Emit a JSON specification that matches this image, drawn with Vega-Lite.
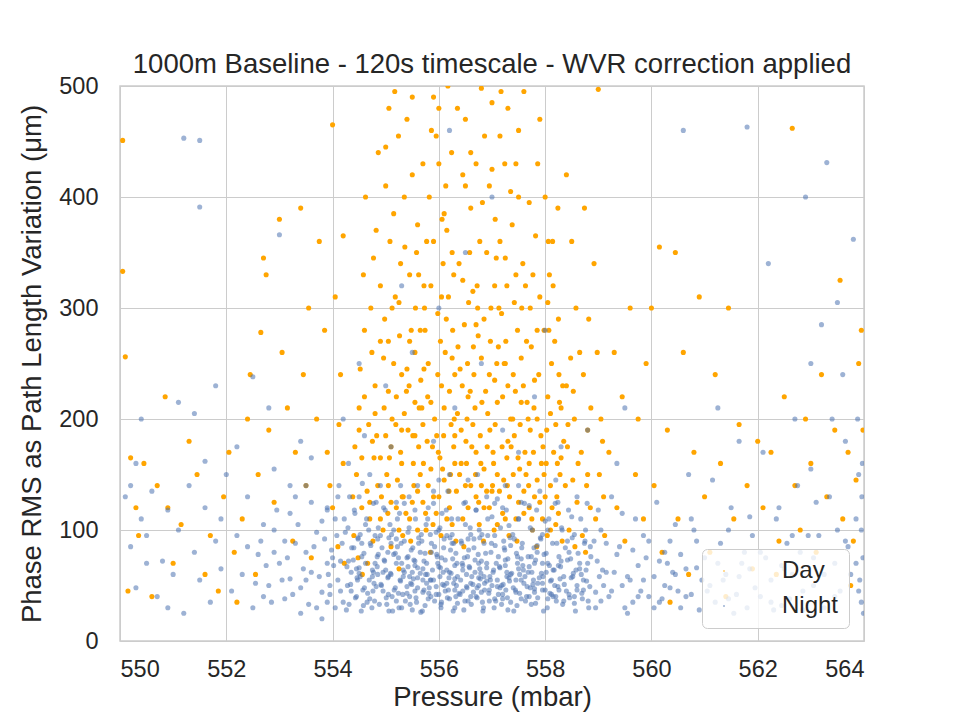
{
  "$schema": "https://vega.github.io/schema/vega-lite/v6.json",
  "width": 744,
  "height": 555,
  "autosize": {"type": "none"},
  "padding": {"left": 120, "top": 86, "right": 96, "bottom": 79},
  "background": "white",
  "title": {
    "text": "1000m Baseline - 120s timescale - WVR correction applied",
    "fontSize": 27.5,
    "fontWeight": "normal",
    "font": "Liberation Sans",
    "color": "#262626",
    "offset": -4,
    "anchor": "middle"
  },
  "datasets": {
    "day": [
      {"x":554.0,"y":120},{"x":554.1,"y":85},{"x":554.2,"y":160},{"x":554.15,"y":240},{"x":554.05,"y":310},{"x":554.22,"y":70},{"x":554.12,"y":195},{"x":553.95,"y":140},{"x":554.2,"y":365},{"x":554.0,"y":465},
      {"x":554.4,"y":95},{"x":554.45,"y":150},{"x":554.5,"y":210},{"x":554.55,"y":120},{"x":554.6,"y":280},{"x":554.42,"y":175},{"x":554.58,"y":330},{"x":554.48,"y":75},{"x":554.52,"y":245},{"x":554.62,"y":400},{"x":554.38,"y":130},{"x":554.5,"y":190},{"x":554.56,"y":60},
      {"x":554.7,"y":110},{"x":554.78,"y":165},{"x":554.8,"y":230},{"x":554.72,"y":300},{"x":554.85,"y":140},{"x":554.68,"y":195},{"x":554.82,"y":370},{"x":554.76,"y":90},{"x":554.74,"y":260},{"x":554.86,"y":440},{"x":554.7,"y":125},{"x":554.8,"y":205},{"x":554.77,"y":345},{"x":554.66,"y":70},
      {"x":554.95,"y":100},{"x":555.02,"y":150},{"x":555.05,"y":225},{"x":554.98,"y":290},{"x":555.1,"y":175},{"x":554.92,"y":130},{"x":555.08,"y":360},{"x":555.0,"y":410},{"x":555.12,"y":200},{"x":554.96,"y":255},{"x":555.04,"y":115},{"x":555.06,"y":480},{"x":554.9,"y":320},{"x":555.1,"y":85},{"x":555.0,"y":185},
      {"x":555.2,"y":120},{"x":555.28,"y":170},{"x":555.3,"y":240},{"x":555.18,"y":310},{"x":555.22,"y":145},{"x":555.35,"y":205},{"x":555.15,"y":385},{"x":555.32,"y":95},{"x":555.26,"y":275},{"x":555.24,"y":455},{"x":555.3,"y":160},{"x":555.2,"y":220},{"x":555.28,"y":340},{"x":555.33,"y":130},{"x":555.17,"y":495},{"x":555.25,"y":65},
      {"x":555.45,"y":110},{"x":555.52,"y":160},{"x":555.55,"y":215},{"x":555.48,"y":280},{"x":555.6,"y":135},{"x":555.42,"y":190},{"x":555.58,"y":350},{"x":555.5,"y":420},{"x":555.4,"y":245},{"x":555.56,"y":300},{"x":555.47,"y":90},{"x":555.62,"y":175},{"x":555.5,"y":490},{"x":555.44,"y":230},{"x":555.6,"y":375},{"x":555.53,"y":140},
      {"x":555.7,"y":125},{"x":555.78,"y":180},{"x":555.8,"y":250},{"x":555.72,"y":320},{"x":555.85,"y":155},{"x":555.68,"y":210},{"x":555.82,"y":400},{"x":555.76,"y":100},{"x":555.74,"y":280},{"x":555.86,"y":460},{"x":555.7,"y":195},{"x":555.8,"y":140},{"x":555.77,"y":360},{"x":555.66,"y":235},{"x":555.84,"y":80},{"x":555.73,"y":300},
      {"x":555.95,"y":115},{"x":556.02,"y":165},{"x":556.05,"y":230},{"x":555.98,"y":295},{"x":556.1,"y":145},{"x":555.92,"y":200},{"x":556.08,"y":340},{"x":556.0,"y":430},{"x":556.12,"y":260},{"x":555.96,"y":185},{"x":556.04,"y":95},{"x":556.06,"y":380},{"x":555.9,"y":130},{"x":556.1,"y":210},{"x":556.0,"y":480},{"x":556.03,"y":270},
      {"x":556.2,"y":120},{"x":556.28,"y":175},{"x":556.3,"y":240},{"x":556.18,"y":310},{"x":556.22,"y":150},{"x":556.35,"y":205},{"x":556.15,"y":370},{"x":556.32,"y":90},{"x":556.26,"y":280},{"x":556.24,"y":440},{"x":556.3,"y":160},{"x":556.2,"y":225},{"x":556.28,"y":330},{"x":556.33,"y":135},{"x":556.17,"y":500},{"x":556.25,"y":255},
      {"x":556.45,"y":110},{"x":556.52,"y":160},{"x":556.55,"y":220},{"x":556.48,"y":285},{"x":556.6,"y":140},{"x":556.42,"y":190},{"x":556.58,"y":350},{"x":556.5,"y":410},{"x":556.4,"y":245},{"x":556.56,"y":305},{"x":556.47,"y":85},{"x":556.62,"y":175},{"x":556.5,"y":470},{"x":556.44,"y":230},{"x":556.6,"y":390},{"x":556.53,"y":200},
      {"x":556.7,"y":130},{"x":556.78,"y":185},{"x":556.8,"y":255},{"x":556.72,"y":320},{"x":556.85,"y":155},{"x":556.68,"y":210},{"x":556.82,"y":395},{"x":556.76,"y":105},{"x":556.74,"y":275},{"x":556.86,"y":455},{"x":556.7,"y":170},{"x":556.8,"y":140},{"x":556.77,"y":360},{"x":556.66,"y":240},{"x":556.84,"y":90},{"x":556.73,"y":300},{"x":556.8,"y":498},
      {"x":556.95,"y":120},{"x":557.02,"y":170},{"x":557.05,"y":235},{"x":556.98,"y":300},{"x":557.1,"y":150},{"x":556.92,"y":205},{"x":557.08,"y":345},{"x":557.0,"y":425},{"x":557.12,"y":265},{"x":556.96,"y":190},{"x":557.04,"y":100},{"x":557.06,"y":380},{"x":556.9,"y":135},{"x":557.1,"y":215},{"x":557.0,"y":485},{"x":557.03,"y":160},
      {"x":557.2,"y":115},{"x":557.28,"y":165},{"x":557.3,"y":230},{"x":557.18,"y":295},{"x":557.22,"y":145},{"x":557.35,"y":200},{"x":557.15,"y":360},{"x":557.32,"y":95},{"x":557.26,"y":270},{"x":557.24,"y":430},{"x":557.3,"y":180},{"x":557.2,"y":220},{"x":557.28,"y":320},{"x":557.33,"y":130},{"x":557.17,"y":495},{"x":557.25,"y":250},
      {"x":557.45,"y":110},{"x":557.52,"y":155},{"x":557.55,"y":215},{"x":557.48,"y":280},{"x":557.6,"y":135},{"x":557.42,"y":185},{"x":557.58,"y":340},{"x":557.5,"y":400},{"x":557.4,"y":240},{"x":557.56,"y":300},{"x":557.47,"y":90},{"x":557.62,"y":170},{"x":557.5,"y":460},{"x":557.44,"y":225},{"x":557.6,"y":495},{"x":557.53,"y":195},
      {"x":557.7,"y":120},{"x":557.78,"y":170},{"x":557.8,"y":235},{"x":557.72,"y":300},{"x":557.85,"y":145},{"x":557.68,"y":200},{"x":557.82,"y":365},{"x":557.76,"y":100},{"x":557.74,"y":265},{"x":557.86,"y":430},{"x":557.7,"y":160},{"x":557.8,"y":130},{"x":557.77,"y":330},{"x":557.66,"y":215},{"x":557.84,"y":85},
      {"x":557.95,"y":110},{"x":558.02,"y":160},{"x":558.05,"y":220},{"x":557.98,"y":280},{"x":558.1,"y":140},{"x":557.92,"y":185},{"x":558.08,"y":330},{"x":558.0,"y":400},{"x":558.12,"y":250},{"x":557.96,"y":175},{"x":558.04,"y":95},{"x":558.06,"y":360},{"x":557.9,"y":125},{"x":558.1,"y":205},
      {"x":558.2,"y":105},{"x":558.28,"y":150},{"x":558.3,"y":210},{"x":558.18,"y":270},{"x":558.22,"y":130},{"x":558.35,"y":180},{"x":558.15,"y":320},{"x":558.32,"y":90},{"x":558.26,"y":240},{"x":558.24,"y":390},{"x":558.3,"y":165},{"x":558.2,"y":195},
      {"x":558.45,"y":100},{"x":558.52,"y":145},{"x":558.55,"y":200},{"x":558.48,"y":255},{"x":558.6,"y":125},{"x":558.42,"y":175},{"x":558.58,"y":300},{"x":558.5,"y":360},{"x":558.4,"y":230},{"x":558.56,"y":85},{"x":558.62,"y":160},
      {"x":558.7,"y":95},{"x":558.78,"y":140},{"x":558.8,"y":190},{"x":558.72,"y":240},{"x":558.85,"y":120},{"x":558.68,"y":170},{"x":558.82,"y":290},{"x":558.76,"y":80},{"x":558.74,"y":390},{"x":558.86,"y":210},
      {"x":558.95,"y":110},{"x":559.02,"y":150},{"x":559.05,"y":200},{"x":558.98,"y":260},{"x":559.1,"y":130},{"x":558.92,"y":340},{"x":559.08,"y":180},{"x":559.0,"y":497},{"x":559.12,"y":95},
      {"x":554.9,"y":165},{"x":555.05,"y":140},{"x":555.15,"y":250},{"x":555.3,"y":190},{"x":555.38,"y":115},{"x":555.45,"y":270},{"x":555.55,"y":185},{"x":555.65,"y":150},{"x":555.72,"y":245},{"x":555.88,"y":175},{"x":555.98,"y":240},{"x":556.07,"y":155},{"x":556.14,"y":290},{"x":556.23,"y":195},{"x":556.36,"y":265},{"x":556.42,"y":160},{"x":556.54,"y":250},{"x":556.64,"y":195},{"x":556.7,"y":285},{"x":556.79,"y":160},{"x":556.88,"y":225},{"x":556.97,"y":270},{"x":557.06,"y":195},{"x":557.14,"y":135},{"x":557.23,"y":250},{"x":557.36,"y":175},{"x":557.42,"y":305},{"x":557.55,"y":255},{"x":557.64,"y":150},{"x":557.72,"y":190},{"x":557.88,"y":240},{"x":557.98,"y":150},{"x":558.07,"y":280},{"x":558.16,"y":170},{"x":558.27,"y":215},{"x":558.38,"y":140},{"x":558.53,"y":225},
      {"x":555.12,"y":300},{"x":555.36,"y":355},{"x":555.62,"y":330},{"x":555.9,"y":360},{"x":556.13,"y":410},{"x":556.38,"y":340},{"x":556.64,"y":315},{"x":556.9,"y":350},{"x":557.13,"y":300},{"x":557.38,"y":375},{"x":557.63,"y":320},{"x":557.9,"y":310},{"x":558.14,"y":360},{"x":555.0,"y":445},{"x":555.4,"y":470},{"x":555.95,"y":455},{"x":556.35,"y":480},{"x":556.6,"y":440},{"x":557.15,"y":455},{"x":557.45,"y":430},{"x":557.9,"y":470},{"x":558.4,"y":420},
      {"x":554.6,"y":220},{"x":554.75,"y":180},{"x":554.9,"y":270},{"x":554.55,"y":165},{"x":558.65,"y":260},{"x":558.8,"y":150},{"x":555.1,"y":125},{"x":555.6,"y":100},{"x":556.15,"y":110},{"x":556.55,"y":120},{"x":557.1,"y":105},{"x":557.6,"y":115},{"x":558.1,"y":100},{"x":556.85,"y":120},{"x":556.3,"y":185},{"x":557.4,"y":150},{"x":555.85,"y":215},{"x":556.95,"y":240},{"x":557.85,"y":200},{"x":555.55,"y":260},
      {"x":554.65,"y":135},{"x":554.83,"y":185},{"x":554.97,"y":210},{"x":555.07,"y":165},{"x":555.19,"y":195},{"x":555.31,"y":130},{"x":555.39,"y":225},{"x":555.51,"y":185},{"x":555.63,"y":210},{"x":555.71,"y":160},{"x":555.79,"y":220},{"x":555.89,"y":105},{"x":555.99,"y":170},{"x":556.09,"y":185},{"x":556.19,"y":135},{"x":556.29,"y":200},{"x":556.39,"y":150},{"x":556.51,"y":180},{"x":556.59,"y":225},{"x":556.69,"y":150},{"x":556.81,"y":215},{"x":556.91,"y":175},{"x":557.01,"y":140},{"x":557.09,"y":250},{"x":557.19,"y":175},{"x":557.29,"y":140},{"x":557.39,"y":200},{"x":557.49,"y":165},{"x":557.59,"y":230},{"x":557.69,"y":140},{"x":557.79,"y":210},{"x":557.93,"y":160},{"x":558.03,"y":190},{"x":558.13,"y":120},{"x":558.23,"y":160},{"x":558.33,"y":230},{"x":558.43,"y":195},
      {"x":555.05,"y":270},{"x":555.25,"y":305},{"x":555.45,"y":330},{"x":555.65,"y":280},{"x":555.85,"y":320},{"x":556.05,"y":310},{"x":556.25,"y":350},{"x":556.45,"y":325},{"x":556.65,"y":265},{"x":556.85,"y":290},{"x":557.05,"y":320},{"x":557.25,"y":345},{"x":557.45,"y":330},{"x":557.65,"y":270},{"x":557.85,"y":280},{"x":558.05,"y":305},{"x":558.25,"y":290},
      {"x":554.9,"y":110},{"x":555.25,"y":100},{"x":555.5,"y":125},{"x":555.75,"y":115},{"x":556.0,"y":130},{"x":556.25,"y":105},{"x":556.5,"y":140},{"x":556.75,"y":125},{"x":557.0,"y":135},{"x":557.25,"y":110},{"x":557.5,"y":125},{"x":557.75,"y":110},{"x":558.0,"y":130},{"x":558.25,"y":115},
      {"x":555.35,"y":400},{"x":555.7,"y":430},{"x":556.1,"y":385},{"x":556.45,"y":420},{"x":556.95,"y":410},{"x":557.35,"y":405},{"x":557.7,"y":395},{"x":556.7,"y":430},{"x":555.9,"y":490},{"x":557.3,"y":480},
      {"x":550.05,"y":451},{"x":550.05,"y":333},{"x":550.1,"y":256},{"x":550.15,"y":45},{"x":550.2,"y":165},{"x":550.3,"y":120},{"x":550.35,"y":95},{"x":550.45,"y":160},{"x":550.6,"y":40},{"x":550.7,"y":140},{"x":550.85,"y":220},{"x":550.9,"y":120},{"x":551.0,"y":70},{"x":551.15,"y":105},{"x":551.3,"y":180},{"x":551.45,"y":150},{"x":551.6,"y":60},{"x":551.7,"y":95},{"x":551.85,"y":45},{"x":551.95,"y":130},{"x":552.05,"y":170},{"x":552.15,"y":80},{"x":552.3,"y":110},{"x":552.45,"y":240},{"x":552.55,"y":60},{"x":552.6,"y":150},{"x":552.7,"y":345},{"x":552.75,"y":330},{"x":552.8,"y":190},{"x":552.9,"y":125},{"x":553.0,"y":380},{"x":553.05,"y":260},{"x":553.15,"y":210},{"x":553.25,"y":90},{"x":553.3,"y":170},{"x":553.4,"y":390},{"x":553.45,"y":240},{"x":553.5,"y":140},{"x":553.55,"y":300},{"x":553.6,"y":75},{"x":553.7,"y":200},{"x":553.75,"y":360},{"x":553.85,"y":280},{"x":553.9,"y":170},{"x":552.4,"y":200},{"x":552.2,"y":35},{"x":552.65,"y":278},
      {"x":559.2,"y":170},{"x":559.3,"y":260},{"x":559.35,"y":120},{"x":559.45,"y":220},{"x":559.5,"y":90},{"x":559.6,"y":300},{"x":559.7,"y":150},{"x":559.75,"y":200},{"x":559.85,"y":110},{"x":559.9,"y":250},{"x":560.0,"y":300},{"x":560.05,"y":140},{"x":560.15,"y":355},{"x":560.2,"y":80},{"x":560.3,"y":190},{"x":560.45,"y":350},{"x":560.5,"y":110},{"x":560.6,"y":260},{"x":560.7,"y":60},{"x":560.8,"y":170},{"x":560.9,"y":310},{"x":561.0,"y":130},{"x":561.1,"y":80},{"x":561.2,"y":240},{"x":561.3,"y":160},{"x":561.45,"y":300},{"x":561.55,"y":110},{"x":561.65,"y":195},{"x":561.8,"y":140},{"x":561.9,"y":65},{"x":562.0,"y":180},{"x":562.1,"y":120},{"x":562.25,"y":170},{"x":562.4,"y":90},{"x":562.5,"y":220},{"x":562.65,"y":462},{"x":562.7,"y":140},{"x":562.8,"y":100},{"x":562.9,"y":200},{"x":563.0,"y":160},{"x":563.1,"y":80},{"x":563.2,"y":240},{"x":563.3,"y":130},{"x":563.45,"y":190},{"x":563.55,"y":325},{"x":563.6,"y":110},{"x":563.7,"y":170},{"x":563.8,"y":90},{"x":563.9,"y":250},{"x":563.95,"y":280},{"x":563.85,"y":145},{"x":563.98,"y":190},{"x":563.75,"y":50},{"x":561.4,"y":40},{"x":562.35,"y":60},{"x":560.35,"y":35}
    ],
    "night": [
      {"x":550.1,"y":130},{"x":550.2,"y":85},{"x":550.3,"y":48},{"x":550.4,"y":110},{"x":550.5,"y":95},{"x":550.6,"y":135},{"x":550.7,"y":40},{"x":550.8,"y":72},{"x":550.9,"y":118},{"x":551.0,"y":60},{"x":551.1,"y":100},{"x":551.2,"y":25},{"x":551.3,"y":140},{"x":551.4,"y":80},{"x":551.5,"y":55},{"x":551.6,"y":120},{"x":551.7,"y":35},{"x":551.8,"y":90},{"x":551.9,"y":65},{"x":552.0,"y":150},{"x":550.3,"y":160},{"x":551.1,"y":215},{"x":551.4,"y":205},{"x":550.9,"y":30},{"x":551.6,"y":162},{"x":550.5,"y":70},{"x":551.9,"y":110},{"x":551.2,"y":453},{"x":551.5,"y":451},{"x":551.5,"y":391},{"x":550.4,"y":200},{"x":551.8,"y":230},{"x":550.2,"y":140},
      {"x":552.1,"y":45},{"x":552.2,"y":95},{"x":552.3,"y":60},{"x":552.4,"y":130},{"x":552.5,"y":30},{"x":552.6,"y":78},{"x":552.7,"y":105},{"x":552.8,"y":50},{"x":552.9,"y":155},{"x":553.0,"y":70},{"x":553.1,"y":38},{"x":553.2,"y":115},{"x":553.3,"y":88},{"x":553.4,"y":25},{"x":553.5,"y":140},{"x":553.6,"y":62},{"x":553.7,"y":98},{"x":553.8,"y":44},{"x":553.9,"y":120},{"x":552.2,"y":175},{"x":552.8,"y":210},{"x":553.0,"y":366},{"x":553.4,"y":180},{"x":552.5,"y":238},{"x":553.2,"y":56},{"x":553.5,"y":80},{"x":553.7,"y":30},{"x":553.9,"y":70},{"x":552.9,"y":100},{"x":553.3,"y":130},{"x":552.4,"y":85},{"x":553.6,"y":165},{"x":553.8,"y":108},{"x":553.1,"y":90},{"x":552.7,"y":40},{"x":553.9,"y":35},{"x":553.5,"y":55},
      {"x":553.95,"y":42},{"x":554.02,"y":68},{"x":554.08,"y":95},{"x":553.9,"y":118},{"x":554.1,"y":55},{"x":554.05,"y":30},{"x":553.98,"y":82},{"x":554.12,"y":140},{"x":554.0,"y":75},{"x":553.92,"y":60},
      {"x":554.2,"y":35},{"x":554.28,"y":50},{"x":554.3,"y":72},{"x":554.18,"y":88},{"x":554.22,"y":110},{"x":554.35,"y":62},{"x":554.15,"y":45},{"x":554.32,"y":130},{"x":554.26,"y":28},{"x":554.24,"y":98},{"x":554.3,"y":160},
      {"x":554.45,"y":40},{"x":554.52,"y":58},{"x":554.55,"y":76},{"x":554.48,"y":92},{"x":554.6,"y":48},{"x":554.42,"y":115},{"x":554.58,"y":32},{"x":554.5,"y":66},{"x":554.4,"y":84},{"x":554.56,"y":142},{"x":554.47,"y":55},{"x":554.62,"y":105},
      {"x":554.7,"y":38},{"x":554.78,"y":52},{"x":554.8,"y":70},{"x":554.72,"y":86},{"x":554.85,"y":60},{"x":554.68,"y":100},{"x":554.82,"y":125},{"x":554.76,"y":45},{"x":554.74,"y":30},{"x":554.86,"y":78},{"x":554.7,"y":150},{"x":554.8,"y":95},{"x":554.77,"y":62},
      {"x":554.95,"y":45},{"x":555.02,"y":33},{"x":555.05,"y":58},{"x":554.98,"y":72},{"x":555.1,"y":88},{"x":554.92,"y":50},{"x":555.08,"y":105},{"x":555.0,"y":64},{"x":555.12,"y":40},{"x":554.96,"y":120},{"x":555.04,"y":80},{"x":555.06,"y":27},{"x":554.9,"y":95},{"x":555.1,"y":175},
      {"x":555.2,"y":36},{"x":555.28,"y":54},{"x":555.3,"y":70},{"x":555.18,"y":48},{"x":555.22,"y":85},{"x":555.35,"y":62},{"x":555.15,"y":100},{"x":555.32,"y":42},{"x":555.26,"y":115},{"x":555.24,"y":75},{"x":555.3,"y":30},{"x":555.2,"y":92},{"x":555.28,"y":140},{"x":555.33,"y":58},
      {"x":555.45,"y":40},{"x":555.52,"y":56},{"x":555.55,"y":68},{"x":555.48,"y":82},{"x":555.6,"y":48},{"x":555.42,"y":98},{"x":555.58,"y":35},{"x":555.5,"y":62},{"x":555.4,"y":75},{"x":555.56,"y":110},{"x":555.47,"y":52},{"x":555.62,"y":88},{"x":555.5,"y":28},{"x":555.44,"y":130},{"x":555.6,"y":66},
      {"x":555.7,"y":44},{"x":555.78,"y":60},{"x":555.8,"y":38},{"x":555.72,"y":72},{"x":555.85,"y":55},{"x":555.68,"y":90},{"x":555.82,"y":48},{"x":555.76,"y":105},{"x":555.74,"y":32},{"x":555.86,"y":80},{"x":555.7,"y":65},{"x":555.8,"y":120},{"x":555.77,"y":52},{"x":555.66,"y":26},{"x":555.84,"y":96},
      {"x":555.95,"y":42},{"x":556.02,"y":58},{"x":556.05,"y":35},{"x":555.98,"y":70},{"x":556.1,"y":50},{"x":555.92,"y":85},{"x":556.08,"y":62},{"x":556.0,"y":100},{"x":556.12,"y":45},{"x":555.96,"y":78},{"x":556.04,"y":30},{"x":556.06,"y":115},{"x":555.9,"y":55},{"x":556.1,"y":92},{"x":556.0,"y":145},{"x":556.03,"y":66},
      {"x":556.2,"y":38},{"x":556.28,"y":52},{"x":556.3,"y":68},{"x":556.18,"y":46},{"x":556.22,"y":82},{"x":556.35,"y":58},{"x":556.15,"y":95},{"x":556.32,"y":40},{"x":556.26,"y":74},{"x":556.24,"y":110},{"x":556.3,"y":30},{"x":556.2,"y":62},{"x":556.28,"y":88},{"x":556.33,"y":50},{"x":556.17,"y":135},
      {"x":556.45,"y":45},{"x":556.52,"y":60},{"x":556.55,"y":36},{"x":556.48,"y":75},{"x":556.6,"y":52},{"x":556.42,"y":90},{"x":556.58,"y":66},{"x":556.5,"y":105},{"x":556.4,"y":42},{"x":556.56,"y":82},{"x":556.47,"y":28},{"x":556.62,"y":58},{"x":556.5,"y":125},{"x":556.44,"y":70},{"x":556.6,"y":96},{"x":556.53,"y":48},
      {"x":556.7,"y":40},{"x":556.78,"y":56},{"x":556.8,"y":72},{"x":556.72,"y":48},{"x":556.85,"y":88},{"x":556.68,"y":62},{"x":556.82,"y":35},{"x":556.76,"y":100},{"x":556.74,"y":78},{"x":556.86,"y":52},{"x":556.7,"y":118},{"x":556.8,"y":44},{"x":556.77,"y":65},{"x":556.66,"y":92},{"x":556.84,"y":30},{"x":556.73,"y":150},
      {"x":556.95,"y":46},{"x":557.02,"y":62},{"x":557.05,"y":38},{"x":556.98,"y":80},{"x":557.1,"y":55},{"x":556.92,"y":95},{"x":557.08,"y":70},{"x":557.0,"y":112},{"x":557.12,"y":42},{"x":556.96,"y":58},{"x":557.04,"y":30},{"x":557.06,"y":86},{"x":556.9,"y":66},{"x":557.1,"y":128},{"x":557.0,"y":50},
      {"x":557.2,"y":42},{"x":557.28,"y":58},{"x":557.3,"y":74},{"x":557.18,"y":50},{"x":557.22,"y":90},{"x":557.35,"y":35},{"x":557.15,"y":66},{"x":557.32,"y":104},{"x":557.26,"y":46},{"x":557.24,"y":82},{"x":557.3,"y":28},{"x":557.2,"y":120},{"x":557.28,"y":62},{"x":557.33,"y":54},
      {"x":557.45,"y":44},{"x":557.52,"y":60},{"x":557.55,"y":38},{"x":557.48,"y":76},{"x":557.6,"y":52},{"x":557.42,"y":92},{"x":557.58,"y":68},{"x":557.5,"y":110},{"x":557.4,"y":48},{"x":557.56,"y":84},{"x":557.47,"y":32},{"x":557.62,"y":58},{"x":557.5,"y":140},
      {"x":557.7,"y":40},{"x":557.78,"y":55},{"x":557.8,"y":70},{"x":557.72,"y":48},{"x":557.85,"y":86},{"x":557.68,"y":62},{"x":557.82,"y":34},{"x":557.76,"y":100},{"x":557.74,"y":76},{"x":557.86,"y":52},{"x":557.7,"y":122},{"x":557.8,"y":44},
      {"x":557.95,"y":46},{"x":558.02,"y":62},{"x":558.05,"y":38},{"x":557.98,"y":78},{"x":558.1,"y":54},{"x":557.92,"y":92},{"x":558.08,"y":68},{"x":558.0,"y":108},{"x":558.12,"y":42},{"x":557.96,"y":58},{"x":558.04,"y":30},
      {"x":558.2,"y":40},{"x":558.28,"y":56},{"x":558.3,"y":72},{"x":558.18,"y":50},{"x":558.22,"y":88},{"x":558.35,"y":36},{"x":558.15,"y":64},{"x":558.32,"y":100},{"x":558.26,"y":46},{"x":558.24,"y":125},
      {"x":558.45,"y":42},{"x":558.52,"y":58},{"x":558.55,"y":34},{"x":558.48,"y":74},{"x":558.6,"y":50},{"x":558.42,"y":90},{"x":558.58,"y":64},{"x":558.5,"y":112},{"x":558.4,"y":45},
      {"x":558.7,"y":38},{"x":558.78,"y":54},{"x":558.8,"y":70},{"x":558.72,"y":46},{"x":558.85,"y":85},{"x":558.68,"y":60},{"x":558.82,"y":30},{"x":558.76,"y":100},
      {"x":558.95,"y":44},{"x":559.02,"y":58},{"x":559.05,"y":36},{"x":558.98,"y":72},{"x":559.1,"y":50},{"x":558.92,"y":90},{"x":559.08,"y":64},{"x":559.0,"y":118},
      {"x":554.31,"y":33},{"x":554.34,"y":51},{"x":554.27,"y":67},{"x":554.36,"y":84},{"x":554.29,"y":102},
      {"x":554.43,"y":39},{"x":554.46,"y":57},{"x":554.39,"y":73},{"x":554.48,"y":93},{"x":554.41,"y":118},
      {"x":554.54,"y":27},{"x":554.57,"y":46},{"x":554.5,"y":61},{"x":554.59,"y":79},{"x":554.52,"y":96},
      {"x":554.66,"y":43},{"x":554.69,"y":55},{"x":554.62,"y":70},{"x":554.71,"y":88},{"x":554.64,"y":110},
      {"x":554.79,"y":36},{"x":554.82,"y":49},{"x":554.75,"y":64},{"x":554.84,"y":76},{"x":554.77,"y":124},
      {"x":554.88,"y":33},{"x":554.91,"y":51},{"x":554.84,"y":67},{"x":554.93,"y":84},{"x":554.86,"y":102},
      {"x":555.01,"y":39},{"x":555.04,"y":57},{"x":554.97,"y":73},{"x":555.06,"y":93},{"x":554.99,"y":118},
      {"x":555.13,"y":27},{"x":555.16,"y":46},{"x":555.09,"y":61},{"x":555.18,"y":79},{"x":555.11,"y":96},
      {"x":555.24,"y":43},{"x":555.27,"y":55},{"x":555.2,"y":70},{"x":555.29,"y":88},{"x":555.22,"y":110},
      {"x":555.37,"y":36},{"x":555.4,"y":49},{"x":555.33,"y":64},{"x":555.42,"y":76},{"x":555.35,"y":124},
      {"x":555.46,"y":33},{"x":555.49,"y":51},{"x":555.42,"y":67},{"x":555.51,"y":84},{"x":555.44,"y":102},
      {"x":555.57,"y":39},{"x":555.6,"y":57},{"x":555.53,"y":73},{"x":555.62,"y":93},{"x":555.55,"y":118},
      {"x":555.69,"y":27},{"x":555.72,"y":46},{"x":555.65,"y":61},{"x":555.74,"y":79},{"x":555.67,"y":96},
      {"x":555.81,"y":43},{"x":555.84,"y":55},{"x":555.77,"y":70},{"x":555.86,"y":88},{"x":555.79,"y":110},
      {"x":555.92,"y":36},{"x":555.95,"y":49},{"x":555.88,"y":64},{"x":555.97,"y":76},{"x":555.9,"y":124},
      {"x":556.04,"y":33},{"x":556.07,"y":51},{"x":556.0,"y":67},{"x":556.09,"y":84},{"x":556.02,"y":102},
      {"x":556.16,"y":39},{"x":556.19,"y":57},{"x":556.12,"y":73},{"x":556.21,"y":93},{"x":556.14,"y":118},
      {"x":556.27,"y":27},{"x":556.3,"y":46},{"x":556.23,"y":61},{"x":556.32,"y":79},{"x":556.25,"y":96},
      {"x":556.38,"y":43},{"x":556.41,"y":55},{"x":556.34,"y":70},{"x":556.43,"y":88},{"x":556.36,"y":110},
      {"x":556.49,"y":36},{"x":556.52,"y":49},{"x":556.45,"y":64},{"x":556.54,"y":76},{"x":556.47,"y":124},
      {"x":556.61,"y":33},{"x":556.64,"y":51},{"x":556.57,"y":67},{"x":556.66,"y":84},{"x":556.59,"y":102},
      {"x":556.72,"y":39},{"x":556.75,"y":57},{"x":556.68,"y":73},{"x":556.77,"y":93},{"x":556.7,"y":118},
      {"x":556.83,"y":27},{"x":556.86,"y":46},{"x":556.79,"y":61},{"x":556.88,"y":79},{"x":556.81,"y":96},
      {"x":556.94,"y":43},{"x":556.97,"y":55},{"x":556.9,"y":70},{"x":556.99,"y":88},{"x":556.92,"y":110},
      {"x":557.07,"y":36},{"x":557.1,"y":49},{"x":557.03,"y":64},{"x":557.12,"y":76},{"x":557.05,"y":124},
      {"x":557.18,"y":33},{"x":557.21,"y":51},{"x":557.14,"y":67},{"x":557.23,"y":84},{"x":557.16,"y":102},
      {"x":557.29,"y":39},{"x":557.32,"y":57},{"x":557.25,"y":73},{"x":557.34,"y":93},{"x":557.27,"y":118},
      {"x":557.41,"y":27},{"x":557.44,"y":46},{"x":557.37,"y":61},{"x":557.46,"y":79},{"x":557.39,"y":96},
      {"x":557.52,"y":43},{"x":557.55,"y":55},{"x":557.48,"y":70},{"x":557.57,"y":88},{"x":557.5,"y":110},
      {"x":557.63,"y":36},{"x":557.66,"y":49},{"x":557.59,"y":64},{"x":557.68,"y":76},{"x":557.61,"y":124},
      {"x":557.74,"y":33},{"x":557.77,"y":51},{"x":557.7,"y":67},{"x":557.79,"y":84},{"x":557.72,"y":102},
      {"x":557.86,"y":39},{"x":557.89,"y":57},{"x":557.82,"y":73},{"x":557.91,"y":93},{"x":557.84,"y":118},
      {"x":557.97,"y":27},{"x":558.0,"y":46},{"x":557.93,"y":61},{"x":558.02,"y":79},{"x":557.95,"y":96},
      {"x":558.09,"y":43},{"x":558.12,"y":55},{"x":558.05,"y":70},{"x":558.14,"y":88},{"x":558.07,"y":110},
      {"x":558.21,"y":36},{"x":558.24,"y":49},{"x":558.17,"y":64},{"x":558.26,"y":76},{"x":558.19,"y":124},
      {"x":558.33,"y":33},{"x":558.36,"y":51},{"x":558.29,"y":67},{"x":558.38,"y":84},{"x":558.31,"y":102},
      {"x":558.46,"y":39},{"x":558.49,"y":57},{"x":558.42,"y":73},{"x":558.51,"y":93},{"x":558.44,"y":118},
      {"x":558.57,"y":27},{"x":558.6,"y":46},{"x":558.53,"y":61},{"x":558.62,"y":79},{"x":558.55,"y":96},
      {"x":558.69,"y":43},{"x":558.72,"y":55},{"x":558.65,"y":70},{"x":558.74,"y":88},{"x":558.67,"y":110},
      {"x":558.81,"y":36},{"x":558.84,"y":49},{"x":558.77,"y":64},{"x":558.86,"y":76},{"x":558.79,"y":124},
      {"x":554.35,"y":45},{"x":554.45,"y":65},{"x":554.55,"y":88},{"x":554.65,"y":35},{"x":554.75,"y":58},{"x":554.85,"y":92},{"x":554.95,"y":62},{"x":555.05,"y":42},{"x":555.15,"y":78},{"x":555.25,"y":30},{"x":555.35,"y":90},{"x":555.45,"y":58},{"x":555.55,"y":45},{"x":555.65,"y":80},{"x":555.75,"y":60},{"x":555.85,"y":40},{"x":555.95,"y":98},{"x":556.05,"y":75},{"x":556.15,"y":52},{"x":556.25,"y":88},{"x":556.35,"y":34},{"x":556.45,"y":68},{"x":556.55,"y":92},{"x":556.65,"y":44},{"x":556.75,"y":70},{"x":556.85,"y":58},{"x":556.95,"y":36},{"x":557.05,"y":95},{"x":557.15,"y":48},{"x":557.25,"y":68},{"x":557.35,"y":86},{"x":557.45,"y":55},{"x":557.55,"y":74},{"x":557.65,"y":40},{"x":557.75,"y":62},{"x":557.85,"y":80},{"x":557.95,"y":52},{"x":558.05,"y":100},{"x":558.15,"y":40},{"x":558.25,"y":68},{"x":558.35,"y":58},{"x":558.45,"y":80},{"x":558.55,"y":40},{"x":558.65,"y":65},{"x":558.75,"y":90},
      {"x":554.5,"y":130},{"x":554.9,"y":140},{"x":555.2,"y":125},{"x":555.6,"y":140},{"x":555.9,"y":135},{"x":556.2,"y":150},{"x":556.55,"y":145},{"x":556.9,"y":130},{"x":557.25,"y":140},{"x":557.55,"y":125},{"x":557.9,"y":135},{"x":558.2,"y":145},{"x":558.6,"y":130},
      {"x":555.1,"y":60},{"x":555.4,"y":43},{"x":555.7,"y":55},{"x":556.0,"y":42},{"x":556.3,"y":56},{"x":556.6,"y":40},{"x":556.9,"y":54},{"x":557.2,"y":38},{"x":557.5,"y":65},{"x":557.8,"y":47},{"x":555.55,"y":72},{"x":556.15,"y":64},{"x":556.75,"y":50},{"x":557.35,"y":60},{"x":557.95,"y":70},
      {"x":552.55,"y":52},{"x":552.65,"y":90},{"x":552.75,"y":68},{"x":552.85,"y":35},{"x":552.95,"y":118},{"x":553.05,"y":55},{"x":553.15,"y":75},{"x":553.25,"y":42},{"x":553.35,"y":105},{"x":553.45,"y":65},{"x":553.55,"y":33},{"x":553.65,"y":85},{"x":553.75,"y":58},{"x":553.85,"y":92},{"x":553.95,"y":50},{"x":554.05,"y":110},{"x":554.15,"y":72},{"x":553.6,"y":125},{"x":553.2,"y":140},{"x":552.9,"y":80},{"x":553.4,"y":48},{"x":553.8,"y":20},{"x":554.1,"y":130},
      {"x":558.95,"y":30},{"x":559.05,"y":100},{"x":559.15,"y":62},{"x":559.25,"y":45},{"x":559.35,"y":78},{"x":559.45,"y":115},{"x":559.55,"y":58},{"x":559.65,"y":82},{"x":559.75,"y":40},{"x":559.85,"y":55},{"x":559.95,"y":90},{"x":560.05,"y":30},{"x":560.15,"y":72},{"x":560.25,"y":50},{"x":560.35,"y":90},{"x":560.45,"y":60},{"x":560.55,"y":78},{"x":560.65,"y":40},{"x":560.75,"y":110},{"x":560.85,"y":66},{"x":561.05,"y":45},{"x":561.25,"y":70},{"x":561.45,"y":38},{"x":561.65,"y":58},{"x":561.85,"y":112},{"x":562.05,"y":80},{"x":562.25,"y":35},{"x":562.45,"y":68},{"x":562.65,"y":95},{"x":562.85,"y":28},{"x":563.05,"y":75},{"x":563.25,"y":60},{"x":563.45,"y":40},{"x":563.65,"y":90},{"x":563.85,"y":70},{"x":563.95,"y":100},{"x":563.9,"y":45},{"x":563.97,"y":160},
      {"x":559.2,"y":40},{"x":559.3,"y":62},{"x":559.4,"y":85},{"x":559.5,"y":30},{"x":559.6,"y":55},{"x":559.7,"y":110},{"x":559.8,"y":45},{"x":559.9,"y":75},{"x":559.25,"y":130},{"x":559.45,"y":50},{"x":559.65,"y":35},{"x":559.85,"y":95},{"x":559.35,"y":160},{"x":559.75,"y":68},{"x":559.55,"y":25},{"x":559.15,"y":88},{"x":559.95,"y":40},
      {"x":560.05,"y":58},{"x":560.15,"y":35},{"x":560.25,"y":80},{"x":560.35,"y":48},{"x":560.45,"y":105},{"x":560.55,"y":30},{"x":560.65,"y":65},{"x":560.75,"y":42},{"x":560.85,"y":90},{"x":560.95,"y":55},{"x":560.1,"y":125},{"x":560.3,"y":70},{"x":560.5,"y":45},{"x":560.7,"y":150},{"x":560.9,"y":28},{"x":560.2,"y":38},{"x":560.4,"y":62},{"x":560.6,"y":460},{"x":560.8,"y":100},{"x":561.0,"y":75},
      {"x":561.1,"y":50},{"x":561.2,"y":35},{"x":561.3,"y":88},{"x":561.4,"y":60},{"x":561.5,"y":120},{"x":561.6,"y":42},{"x":561.7,"y":70},{"x":561.8,"y":30},{"x":561.9,"y":95},{"x":561.15,"y":145},{"x":561.35,"y":55},{"x":561.55,"y":25},{"x":561.75,"y":80},{"x":561.95,"y":48},{"x":561.8,"y":463},{"x":561.25,"y":210},{"x":561.65,"y":180},{"x":561.45,"y":100},{"x":561.85,"y":65},
      {"x":562.05,"y":40},{"x":562.15,"y":75},{"x":562.25,"y":55},{"x":562.35,"y":110},{"x":562.45,"y":32},{"x":562.55,"y":88},{"x":562.65,"y":60},{"x":562.75,"y":140},{"x":562.85,"y":45},{"x":562.95,"y":95},{"x":562.1,"y":170},{"x":562.3,"y":28},{"x":562.5,"y":65},{"x":562.7,"y":200},{"x":562.9,"y":400},{"x":562.2,"y":340},{"x":562.4,"y":120},{"x":562.6,"y":38},{"x":562.8,"y":80},{"x":563.0,"y":155},
      {"x":563.05,"y":50},{"x":563.15,"y":95},{"x":563.25,"y":30},{"x":563.35,"y":130},{"x":563.45,"y":70},{"x":563.55,"y":45},{"x":563.65,"y":180},{"x":563.75,"y":60},{"x":563.85,"y":110},{"x":563.95,"y":35},{"x":563.3,"y":431},{"x":563.8,"y":362},{"x":563.2,"y":285},{"x":563.6,"y":240},{"x":563.9,"y":150},{"x":563.4,"y":200},{"x":563.7,"y":85},{"x":563.1,"y":125},{"x":563.5,"y":100},{"x":563.98,"y":75},{"x":563.92,"y":55},{"x":563.88,"y":200},{"x":563.96,"y":130},{"x":563.99,"y":25},{"x":563.5,"y":305},{"x":563.0,"y":250},
      {"x":554.2,"y":200},{"x":555.0,"y":230},{"x":555.5,"y":260},{"x":556.0,"y":300},{"x":556.3,"y":210},{"x":556.8,"y":250},{"x":557.2,"y":190},{"x":557.8,"y":220},{"x":558.3,"y":175},{"x":558.8,"y":190},{"x":554.6,"y":185},{"x":555.9,"y":180},{"x":557.5,"y":170},{"x":556.5,"y":350},{"x":558.0,"y":280},{"x":555.3,"y":320},{"x":554.5,"y":250},{"x":557.0,"y":400},{"x":556.2,"y":460},{"x":559.5,"y":210}
    ]
  },
  "encoding": {
    "x": {
      "field": "x",
      "type": "quantitative",
      "title": "Pressure (mbar)",
      "scale": {"domain": [550, 564], "nice": false, "zero": false},
      "axis": {"values": [550, 552, 554, 556, 558, 560, 562, 564], "labelPadding": 16, "titlePadding": 3}
    },
    "y": {
      "field": "y",
      "type": "quantitative",
      "title": "Phase RMS as Path Length Variation (μm)",
      "scale": {"domain": [0, 500], "nice": false},
      "axis": {"values": [0, 100, 200, 300, 400, 500], "labelPadding": 22, "titlePadding": 12}
    }
  },
  "layer": [
    {
      "data": {"name": "day"},
      "mark": {"type": "circle", "size": 26, "opacity": 1, "clip": true},
      "encoding": {
        "color": {
          "datum": "Day",
          "type": "nominal",
          "scale": {"domain": ["Day", "Night"], "range": ["#ffa500", "#4c72b0"]},
          "legend": {
            "title": null,
            "orient": "none",
            "legendX": 582,
            "legendY": 463,
            "fillColor": "rgba(255,255,255,0.8)",
            "strokeColor": "#cccccc",
            "cornerRadius": 5,
            "padding": 10,
            "symbolSize": 4,
            "symbolOpacity": 0.15,
            "labelOffset": 46,
            "rowPadding": 11,
            "labelFontSize": 24,
            "labelFont": "Liberation Sans",
            "labelColor": "#262626"
          }
        }
      }
    },
    {
      "data": {"name": "night"},
      "mark": {"type": "circle", "size": 26, "opacity": 0.55, "clip": true},
      "encoding": {
        "color": {"datum": "Night", "type": "nominal"}
      }
    }
  ],
  "config": {
    "view": {"stroke": "#cccccc", "strokeWidth": 1.5},
    "axis": {
      "labelFont": "Liberation Sans",
      "titleFont": "Liberation Sans",
      "labelFontSize": 23.5,
      "titleFontSize": 27.5,
      "titleFontWeight": "normal",
      "labelColor": "#262626",
      "titleColor": "#262626",
      "gridColor": "#cccccc",
      "gridWidth": 1,
      "ticks": false,
      "domain": false
    }
  }
}
